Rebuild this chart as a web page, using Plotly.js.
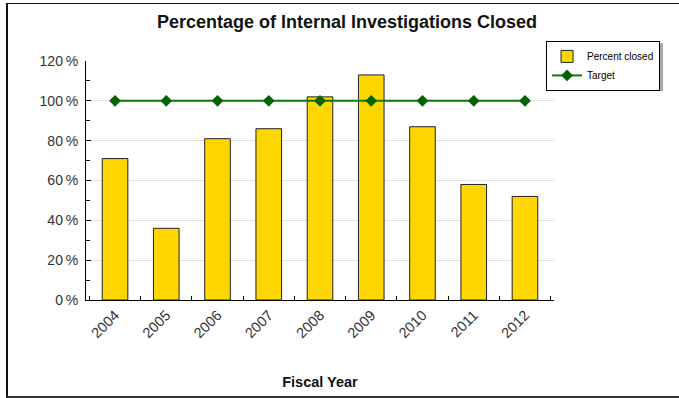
<!DOCTYPE html>
<html><head><meta charset="utf-8">
<script src="https://cdn.plot.ly/plotly-3.0.1.min.js"></script>
<style>
html,body{margin:0;padding:0;background:#fff;}
#wrap{position:relative;width:679px;height:398px;}
#chart{width:679px;height:398px;}
#frame{position:absolute;left:6px;top:3px;width:700px;height:392px;border-left:2px solid #111;border-top:1px solid #111;border-bottom:2px solid #333;pointer-events:none;}
</style></head>
<body><div id="wrap"><div id="chart"></div><div id="frame"></div></div>
<script>
const years = ['2004','2005','2006','2007','2008','2009','2010','2011','2012'];
const percentClosed = [71, 36, 81, 86, 102, 113, 87, 58, 52];
const target = [100, 100, 100, 100, 100, 100, 100, 100, 100];
const yTicks = [0, 20, 40, 60, 80, 100, 120];
const yTickText = yTicks.map(v => v + '\u2009%');

const data = [
  {type:'bar', name:'Percent closed', x:years, y:percentClosed,
   marker:{color:'#FFD700', line:{color:'#222', width:1}}, width:0.5},
  {type:'scatter', mode:'lines+markers', name:'Target', x:years, y:target,
   line:{color:'#0A7A0A', width:2}, marker:{symbol:'diamond', size:9, color:'#006400'}}
];
const layout = {
  width:679, height:398,
  margin:{l:86, r:125, t:61, b:98},
  paper_bgcolor:'#fff', plot_bgcolor:'#fff',
  font:{family:'Liberation Sans, Arial, sans-serif', color:'#333'},
  title:{text:'<b>Percentage of Internal Investigations Closed</b>', font:{size:18, color:'#111'}, x:0.511, xanchor:'center', y:0.945, yanchor:'middle'},
  showlegend:true,
  legend:{x:0.983, y:1.084, xanchor:'left', yanchor:'top', bgcolor:'#fff', bordercolor:'#000', borderwidth:1,
          font:{size:10, color:'#000'}, tracegroupgap:0, itemwidth:30},
  xaxis:{type:'category', showline:true, linecolor:'#000', linewidth:1, ticks:'inside', ticklen:4, tickcolor:'#000',
         tickson:'boundaries', tickangle:-45, tickfont:{size:14.5, color:'#333'},
         title:{text:'<b>Fiscal Year</b>', font:{size:14.5, color:'#111'}, standoff:36}, showgrid:false},
  yaxis:{range:[0,120], tickvals:yTicks, ticktext:yTickText, showline:true, linecolor:'#000', linewidth:1,
         ticks:'inside', ticklen:5, tickcolor:'#000', tickfont:{size:14, color:'#333'}, ticklabelstandoff:4,
         gridcolor:'#e0e0e0', gridwidth:1, zeroline:false,
         minor:{dtick:10, ticks:'inside', ticklen:4, tickcolor:'#000', showgrid:false}},
  shapes:[{type:'rect', xref:'paper', yref:'paper', x0:0.989, x1:1.233, y0:0.874, y1:1.075,
           fillcolor:'#aaa', line:{width:0}, layer:'below'}]
};
Plotly.newPlot('chart', data, layout, {displayModeBar:false, staticPlot:true});
</script></body></html>
